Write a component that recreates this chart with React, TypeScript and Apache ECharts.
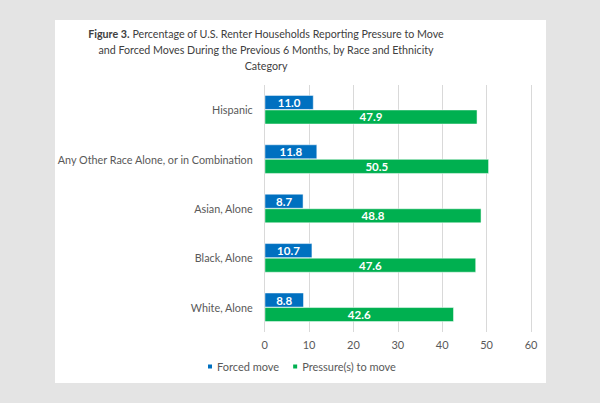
import React, { useEffect, useRef } from "react";
import * as echarts from "echarts";

const categories = [
  "White, Alone",
  "Black, Alone",
  "Asian, Alone",
  "Any Other Race Alone, or in Combination",
  "Hispanic",
];
const forcedMove = [8.8, 10.7, 8.7, 11.8, 11.0];
const pressureToMove = [42.6, 47.6, 48.8, 50.5, 47.9];
const seriesNames = ["Forced move", "Pressure(s) to move"];
const xTicks = { min: 0, max: 60, interval: 10 };

const FONT = "Lato, 'Open Sans', sans-serif";

export default function App() {
  const ref = useRef<HTMLDivElement>(null);
  useEffect(() => {
    if (!ref.current) return;
    const chart = echarts.init(ref.current, undefined, { renderer: "svg" });
    const label = {
      show: true,
      position: "inside",
      color: "#ffffff",
      fontWeight: "bold",
      fontSize: 11.5,
      fontFamily: FONT,
      formatter: (p: any) => Number(p.value).toFixed(1),
    };
    chart.setOption({
      animation: false,
      backgroundColor: "#e4e4e4",
      textStyle: { fontFamily: FONT },
      graphic: [
        {
          type: "rect",
          shape: { x: 55, y: 20, width: 491, height: 363 },
          style: { fill: "#ffffff" },
          z: -10,
        },
      ],
      title: {
        text: "{b|Figure 3.} Percentage of U.S. Renter Households Reporting Pressure to Move\nand Forced Moves During the Previous 6 Months, by Race and Ethnicity\nCategory",
        left: 261,
        textAlign: "center",
        top: 20,
        textStyle: {
          fontSize: 10.7,
          fontWeight: "normal",
          color: "#404040",
          lineHeight: 16,
          fontFamily: FONT,
          rich: {
            b: { fontWeight: "bold", fontSize: 10.7, color: "#404040", fontFamily: FONT, lineHeight: 16 },
          },
        },
      },
      legend: {
        bottom: 26,
        left: 201,
        itemWidth: 6,
        itemHeight: 6,
        itemGap: 12,
        icon: "rect",
        textStyle: { fontSize: 11, color: "#595959", fontFamily: FONT, padding: [0, 0, 0, -1] },
        data: seriesNames,
      },
      grid: { left: 264.7, right: 69, top: 85, bottom: 71, containLabel: false },
      xAxis: {
        type: "value",
        min: xTicks.min,
        max: xTicks.max,
        interval: xTicks.interval,
        axisLine: { show: false },
        axisTick: { show: false },
        splitLine: { lineStyle: { color: "#d9d9d9", width: 1 } },
        axisLabel: { color: "#595959", fontSize: 11, margin: 7, fontFamily: FONT },
      },
      yAxis: {
        type: "category",
        data: categories,
        axisLine: { show: false },
        axisTick: { show: false },
        axisLabel: { color: "#595959", fontSize: 10.8, margin: 12, fontFamily: FONT },
      },
      series: [
        {
          name: seriesNames[0],
          type: "bar",
          data: forcedMove,
          itemStyle: { color: "#0070c0", borderColor: "#ffffff", borderWidth: 0.5 },
          barGap: "0%",
          barCategoryGap: "41%",
          label,
        },
        {
          name: seriesNames[1],
          type: "bar",
          data: pressureToMove,
          itemStyle: { color: "#00b050", borderColor: "#ffffff", borderWidth: 0.5 },
          barGap: "0%",
          barCategoryGap: "41%",
          label,
        },
      ],
    });
    return () => chart.dispose();
  }, []);
  return (
    <div
      ref={ref}
      style={{ position: "fixed", left: 0, top: 0, width: 600, height: 403 }}
    />
  );
}
